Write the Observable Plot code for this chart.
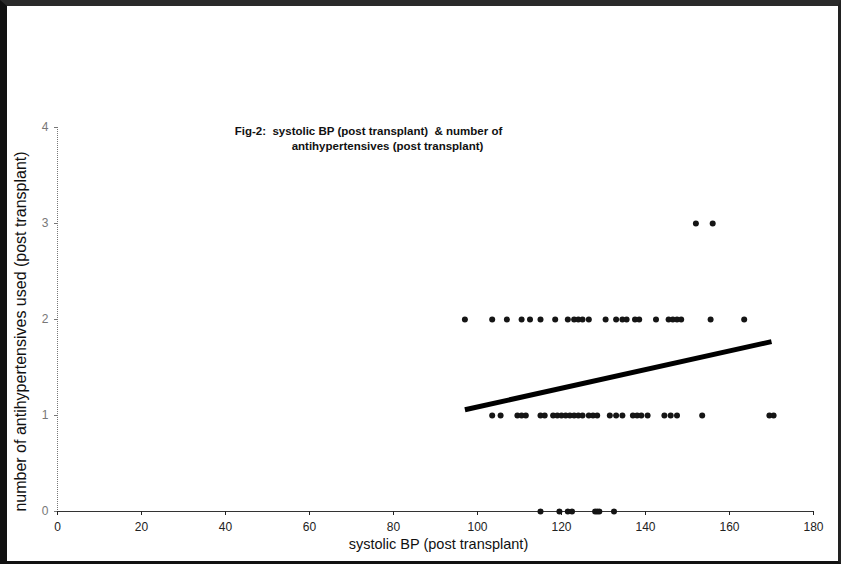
<!DOCTYPE html>
<html>
<head>
<meta charset="utf-8">
<script src="https://cdn.jsdelivr.net/npm/d3@7"></script>
<script src="https://cdn.jsdelivr.net/npm/@observablehq/plot@0.6"></script>
<style>
  html, body { margin: 0; padding: 0; background: #fff; }
  #wrap { position: relative; width: 841px; height: 564px; overflow: hidden; background: #fff; }
  #frame { position: absolute; left: 0; top: 0; width: 841px; height: 564px; box-sizing: border-box;
           border-top: 6px solid #2a2a2a; border-left: 7px solid #111; border-bottom: 3px solid #111; border-right: 3px solid #222;
           pointer-events: none; }
  #chart { position: absolute; left: 0; top: 0; }
</style>
</head>
<body>
<div id="wrap"><div id="chart"></div><div id="frame"></div></div>
<script>
// Systolic BP readings (post transplant), grouped by number of antihypertensives used
const bpWith0 = [115, 119.5, 121.5, 122.5, 128, 128.5, 129, 132.5];
const bpWith1 = [103.5, 105.5, 109.5, 110.5, 111.5, 115, 116, 118, 119, 120, 121, 122, 123, 124, 125,
                 126.5, 127.5, 128.5, 131.5, 133, 134.5, 137, 138, 139, 140.5, 144.5, 146, 147.5, 153.5, 169.5, 170.5];
const bpWith2 = [97, 103.5, 107, 110.5, 112.5, 115, 118.5, 121.5, 123, 124, 125, 126.5, 130.5, 133, 134.5,
                 135.5, 137.5, 138.5, 142.5, 145.5, 146.5, 147.5, 148.5, 155.5, 163.5];
const bpWith3 = [152, 156];
const drugCounts = [0, 1, 2, 3];

// Linear trend line as drawn in the figure (endpoints)
const trendBP = [97, 170];
const trendDrugs = [1.06, 1.77];

const xTicks = [0, 20, 40, 60, 80, 100, 120, 140, 160, 180];
const yTicks = [0, 1, 2, 3, 4];

const titleLine1 = "Fig-2:  systolic BP (post transplant)  & number of";
const titleLine2 = "antihypertensives (post transplant)";
const xLabel = "systolic BP (post transplant)";
const yLabel = "number of antihypertensives used (post transplant)";

const groups = [bpWith0, bpWith1, bpWith2, bpWith3];
const points = groups.flatMap((arr, i) => arr.map(bp => ({bp, n: drugCounts[i]})));
const trend = trendBP.map((bp, i) => ({bp, n: trendDrugs[i]}));

const titleFont = {fontSize: 11.5, fontWeight: "bold", fill: "#111", lineAnchor: "top",
  fontFamily: "'Liberation Sans Narrow', 'Liberation Sans', Arial, sans-serif"};

const plot = Plot.plot({
  width: 841,
  height: 564,
  marginLeft: 57,
  marginRight: 28,
  marginTop: 127,
  marginBottom: 53,
  style: {fontFamily: "'Liberation Sans', Arial, sans-serif", background: "transparent"},
  x: {domain: [0, 180]},
  y: {domain: [0, 4]},
  marks: [
    Plot.ruleX([0], {stroke: "#777", strokeWidth: 1, strokeDasharray: "1,1"}),
    Plot.ruleY([0], {stroke: "#333", strokeWidth: 1.2}),
    Plot.axisX({ticks: xTicks, tickSize: 4, tickPadding: 7, fontSize: 12, color: "#222", label: null, tickFormat: d => d}),
    Plot.axisY({ticks: yTicks, tickSize: 3, tickPadding: 6, fontSize: 12, color: "#777", label: null, tickFormat: d => d}),
    Plot.line(trend, {x: "bp", y: "n", stroke: "#000", strokeWidth: 5, strokeLinecap: "butt"}),
    Plot.dot(points, {x: "bp", y: "n", r: 3, fill: "#151515", stroke: "none"}),
    Plot.text([titleLine1], {frameAnchor: "top", dx: -67, dy: -1, ...titleFont}),
    Plot.text([titleLine2], {frameAnchor: "top", dx: -48, dy: 14, ...titleFont}),
    Plot.text([xLabel], {frameAnchor: "bottom", dy: 37, dx: 3, fontSize: 14.5, fill: "#111"}),
    Plot.text([yLabel], {frameAnchor: "left", textAnchor: "middle", dx: -37, dy: 12, rotate: -90, fontSize: 16,
      fill: "#111", ariaLabel: "ylabel"})
  ]
});
d3.select(plot).selectAll("g[aria-label=ylabel] text").style("letter-spacing", "2.2px");
document.getElementById("chart").appendChild(plot);
</script>
</body>
</html>
